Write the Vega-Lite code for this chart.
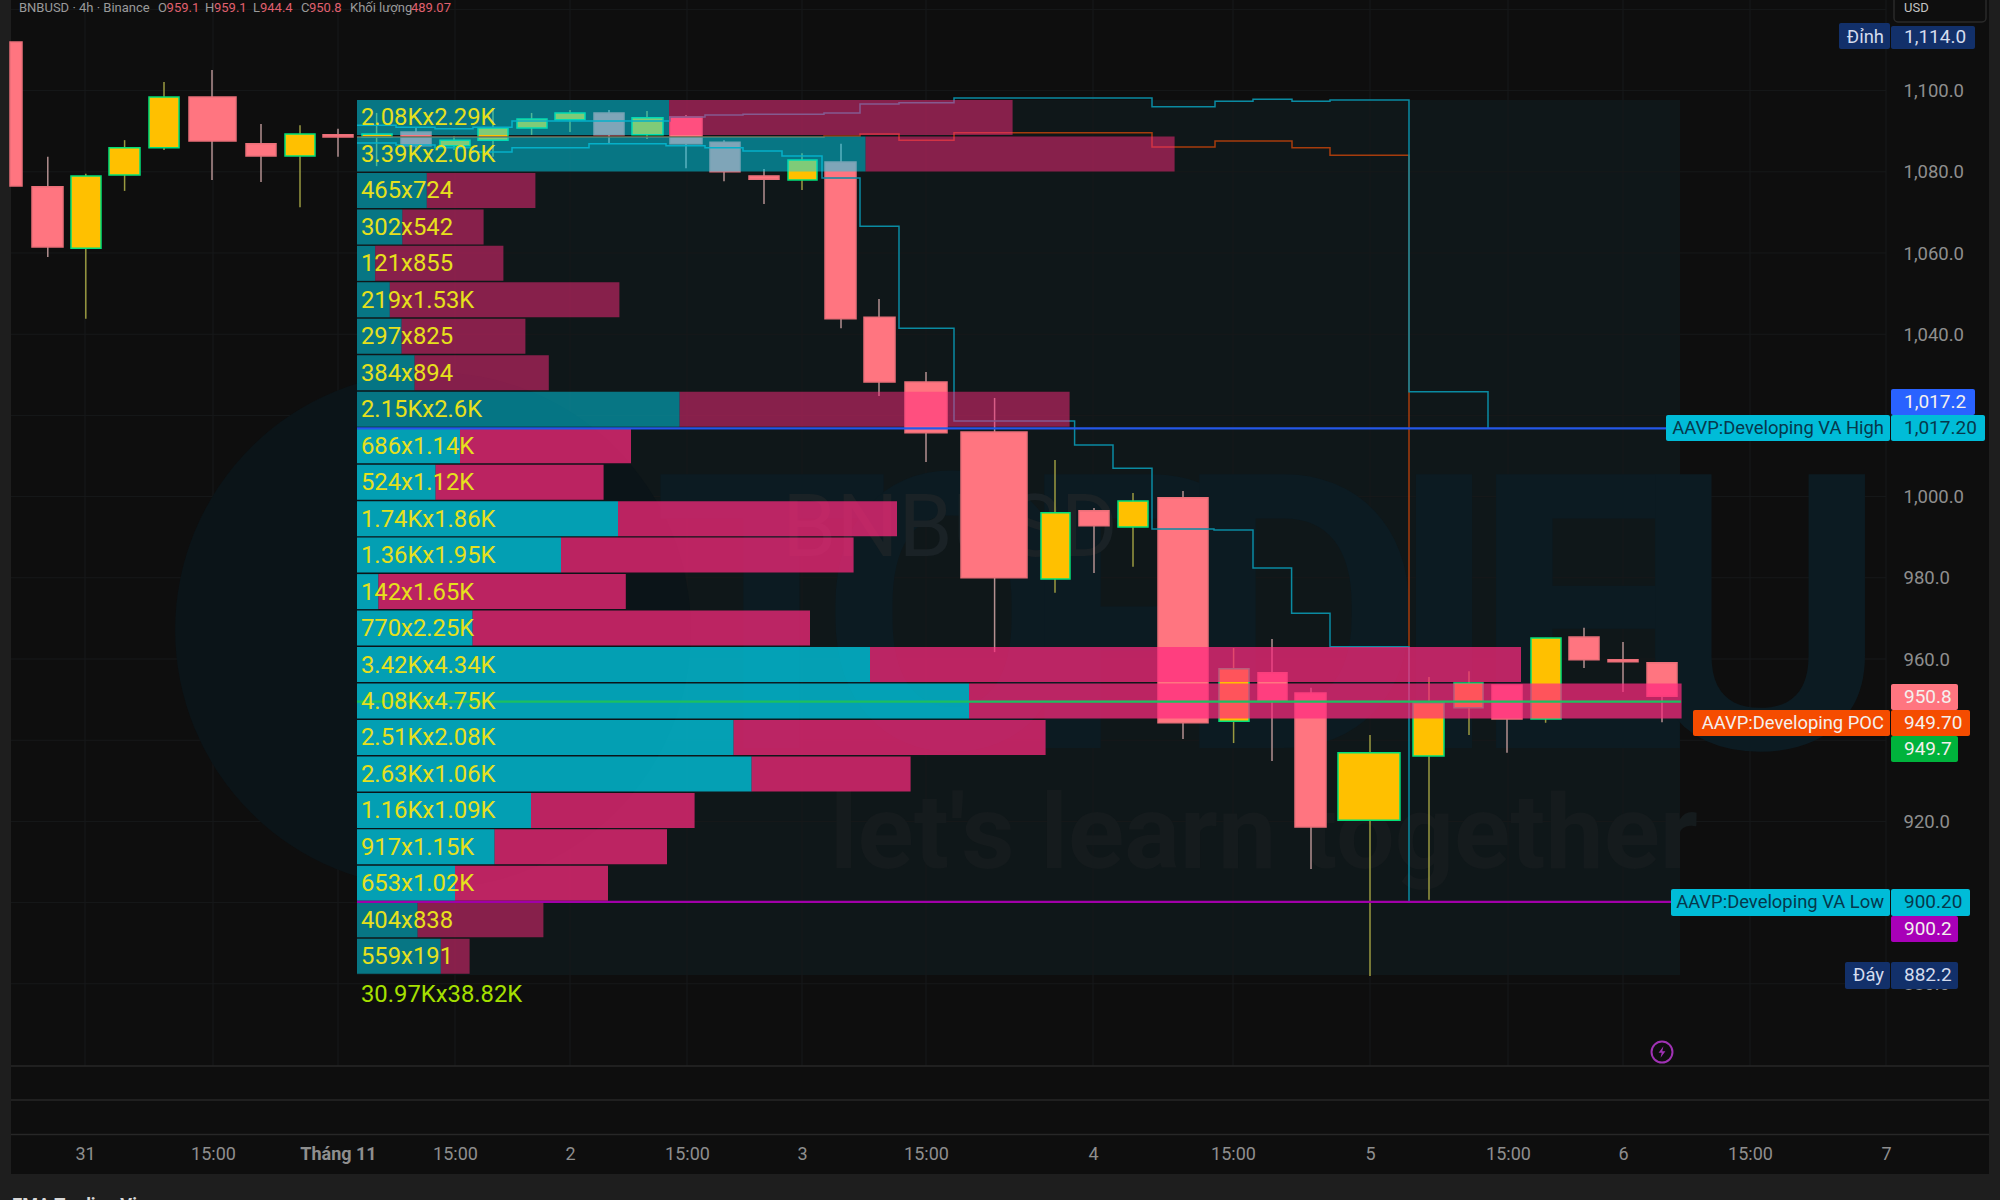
{
  "$schema": "https://vega.github.io/schema/vega-lite/v6.json",
  "width": 2000,
  "height": 1200,
  "padding": 0,
  "autosize": "none",
  "background": "#0e0e0e",
  "config": {"view": {"stroke": null}, "text": {"font": "Roboto"}},
  "datasets": {
    "frame": [
      {"from": 0, "to": 0.55, "top": 1122.32, "bottom": 826.75},
      {"from": 99.45, "to": 100, "top": 1122.32, "bottom": 826.75},
      {"from": 0, "to": 100, "top": 833.15, "bottom": 826.75}
    ],
    "box": [{"from": 17.85, "to": 84, "top": 1097.69, "bottom": 882.2}],
    "time_ticks": [
      {"pos": 4.25, "top": 1122.32, "bottom": 859.76}, {"pos": 10.65, "top": 1122.32, "bottom": 859.76},
      {"pos": 16.9, "top": 1122.32, "bottom": 859.76}, {"pos": 22.75, "top": 1122.32, "bottom": 859.76},
      {"pos": 28.5, "top": 1122.32, "bottom": 859.76}, {"pos": 34.35, "top": 1122.32, "bottom": 859.76},
      {"pos": 40.1, "top": 1122.32, "bottom": 859.76}, {"pos": 46.3, "top": 1122.32, "bottom": 859.76},
      {"pos": 54.65, "top": 1122.32, "bottom": 859.76}, {"pos": 61.65, "top": 1122.32, "bottom": 859.76},
      {"pos": 68.5, "top": 1122.32, "bottom": 859.76}, {"pos": 75.4, "top": 1122.32, "bottom": 859.76},
      {"pos": 81.15, "top": 1122.32, "bottom": 859.76}, {"pos": 87.5, "top": 1122.32, "bottom": 859.76},
      {"pos": 94.3, "top": 1122.32, "bottom": 859.76}
    ],
    "price_ticks": [
      {"price": 1120, "from": 0.55, "to": 94.3}, {"price": 1100, "from": 0.55, "to": 94.3},
      {"price": 1080, "from": 0.55, "to": 94.3}, {"price": 1060, "from": 0.55, "to": 94.3},
      {"price": 1040, "from": 0.55, "to": 94.3}, {"price": 1020, "from": 0.55, "to": 94.3},
      {"price": 1000, "from": 0.55, "to": 94.3}, {"price": 980, "from": 0.55, "to": 94.3},
      {"price": 960, "from": 0.55, "to": 94.3}, {"price": 940, "from": 0.55, "to": 94.3},
      {"price": 920, "from": 0.55, "to": 94.3}, {"price": 900, "from": 0.55, "to": 94.3},
      {"price": 880, "from": 0.55, "to": 94.3}
    ],
    "panes": [
      {"price": 859.76, "from": 0.55, "to": 99.45},
      {"price": 851.4, "from": 0.55, "to": 99.45},
      {"price": 842.9, "from": 0.55, "to": 99.45}
    ],
    "logo": [{"pos": 21.65, "price": 967.14}],
    "brand": [
      {"letter": "T", "pos": 38.6, "price": 938.08}, {"letter": "O", "pos": 47.6, "price": 938.08},
      {"letter": "P", "pos": 57.2, "price": 938.08}, {"letter": "D", "pos": 65, "price": 938.08},
      {"letter": "I", "pos": 72.2, "price": 938.08}, {"letter": "E", "pos": 79, "price": 938.08},
      {"letter": "U", "pos": 88, "price": 938.08}
    ],
    "symbol": [{"text": "BNBUSD", "pos": 47.5, "price": 991.8}],
    "tagline": [{"text": "let's learn together", "pos": 63.2, "price": 908.5}],
    "candles": [
      {"start": 0.5, "end": 1.1, "mid": 0.8, "open": 1112, "high": 1112, "low": 1076.5, "close": 1076.5, "dir": "down"},
      {"start": 1.6, "end": 3.15, "mid": 2.39, "open": 1076.3, "high": 1083.7, "low": 1059, "close": 1061.5, "dir": "down"},
      {"start": 3.55, "end": 5.05, "mid": 4.29, "open": 1061.2, "high": 1079.5, "low": 1043.8, "close": 1079, "dir": "up"},
      {"start": 5.45, "end": 7, "mid": 6.23, "open": 1079.2, "high": 1087.8, "low": 1075.3, "close": 1085.9, "dir": "up"},
      {"start": 7.45, "end": 8.95, "mid": 8.2, "open": 1085.9, "high": 1102.1, "low": 1085.4, "close": 1098.4, "dir": "up"},
      {"start": 9.45, "end": 11.8, "mid": 10.6, "open": 1098.4, "high": 1105.1, "low": 1078, "close": 1087.6, "dir": "down"},
      {"start": 12.3, "end": 13.8, "mid": 13.05, "open": 1086.9, "high": 1091.8, "low": 1077.5, "close": 1083.9, "dir": "down"},
      {"start": 14.25, "end": 15.75, "mid": 15, "open": 1083.9, "high": 1091.5, "low": 1071.3, "close": 1089.3, "dir": "up"},
      {"start": 16.15, "end": 17.65, "mid": 16.9, "open": 1089.1, "high": 1090.6, "low": 1083.7, "close": 1088.6, "dir": "down"},
      {"start": 18.1, "end": 19.6, "mid": 18.83, "open": 1088.6, "high": 1094.5, "low": 1081.4, "close": 1089.3, "dir": "up"},
      {"start": 20.05, "end": 21.55, "mid": 20.8, "open": 1089.8, "high": 1091, "low": 1085.4, "close": 1086.4, "dir": "down"},
      {"start": 22, "end": 23.5, "mid": 22.7, "open": 1086.4, "high": 1088.8, "low": 1085.4, "close": 1087.8, "dir": "up"},
      {"start": 23.9, "end": 25.4, "mid": 24.65, "open": 1087.8, "high": 1095.7, "low": 1083.7, "close": 1090.8, "dir": "up"},
      {"start": 25.85, "end": 27.35, "mid": 26.58, "open": 1090.8, "high": 1094.5, "low": 1089.1, "close": 1093, "dir": "up"},
      {"start": 27.75, "end": 29.25, "mid": 28.5, "open": 1092.8, "high": 1095.2, "low": 1089.8, "close": 1094.5, "dir": "up"},
      {"start": 29.7, "end": 31.2, "mid": 30.45, "open": 1094.5, "high": 1095.2, "low": 1087.1, "close": 1089.1, "dir": "down"},
      {"start": 31.6, "end": 33.15, "mid": 32.35, "open": 1089.1, "high": 1095, "low": 1088.1, "close": 1093.3, "dir": "up"},
      {"start": 33.5, "end": 35.1, "mid": 34.3, "open": 1093.5, "high": 1094, "low": 1080.9, "close": 1086.9, "dir": "down"},
      {"start": 35.5, "end": 37, "mid": 36.2, "open": 1087.3, "high": 1087.8, "low": 1077.7, "close": 1080, "dir": "down"},
      {"start": 37.45, "end": 38.95, "mid": 38.2, "open": 1079, "high": 1080.7, "low": 1072.1, "close": 1078.2, "dir": "down"},
      {"start": 39.4, "end": 40.85, "mid": 40.1, "open": 1078, "high": 1084.6, "low": 1075.5, "close": 1082.9, "dir": "up"},
      {"start": 41.25, "end": 42.8, "mid": 42.05, "open": 1082.4, "high": 1086.9, "low": 1041.5, "close": 1043.8, "dir": "down"},
      {"start": 43.2, "end": 44.75, "mid": 43.95, "open": 1044.2, "high": 1048.7, "low": 1024.8, "close": 1028.2, "dir": "down"},
      {"start": 45.25, "end": 47.35, "mid": 46.3, "open": 1028.2, "high": 1030.7, "low": 1008.5, "close": 1015.7, "dir": "down"},
      {"start": 48.05, "end": 51.35, "mid": 49.73, "open": 1015.9, "high": 1024.3, "low": 961.7, "close": 980, "dir": "down"},
      {"start": 52.05, "end": 53.5, "mid": 52.75, "open": 979.7, "high": 1009, "low": 976.3, "close": 996, "dir": "up"},
      {"start": 53.95, "end": 55.45, "mid": 54.7, "open": 996.5, "high": 997.2, "low": 981.2, "close": 992.8, "dir": "down"},
      {"start": 55.9, "end": 57.4, "mid": 56.65, "open": 992.5, "high": 1000.9, "low": 982.7, "close": 998.9, "dir": "up"},
      {"start": 57.9, "end": 60.4, "mid": 59.15, "open": 999.7, "high": 1001.4, "low": 940.3, "close": 944.3, "dir": "down"},
      {"start": 60.95, "end": 62.45, "mid": 61.68, "open": 944.7, "high": 962.7, "low": 939.3, "close": 957.6, "dir": "up"},
      {"start": 62.9, "end": 64.35, "mid": 63.6, "open": 956.6, "high": 964.9, "low": 934.9, "close": 949.7, "dir": "down"},
      {"start": 64.75, "end": 66.3, "mid": 65.55, "open": 951.6, "high": 952.9, "low": 908.3, "close": 918.6, "dir": "down"},
      {"start": 66.9, "end": 70, "mid": 68.5, "open": 920.3, "high": 941.3, "low": 881.9, "close": 936.9, "dir": "up"},
      {"start": 70.65, "end": 72.2, "mid": 71.45, "open": 936.1, "high": 955.6, "low": 900.7, "close": 949.2, "dir": "up"},
      {"start": 72.7, "end": 74.15, "mid": 73.45, "open": 948, "high": 957, "low": 941.3, "close": 954.1, "dir": "up"},
      {"start": 74.6, "end": 76.1, "mid": 75.35, "open": 953.6, "high": 953.6, "low": 936.9, "close": 945.2, "dir": "down"},
      {"start": 76.55, "end": 78.05, "mid": 77.28, "open": 945.2, "high": 965.2, "low": 944.3, "close": 965.2, "dir": "up"},
      {"start": 78.45, "end": 79.95, "mid": 79.2, "open": 965.4, "high": 967.7, "low": 957.8, "close": 959.8, "dir": "down"},
      {"start": 80.4, "end": 81.9, "mid": 81.15, "open": 959.8, "high": 964.2, "low": 951.9, "close": 959.3, "dir": "down"},
      {"start": 82.35, "end": 83.85, "mid": 83.1, "open": 959.1, "high": 959.1, "low": 944.4, "close": 950.8, "dir": "down"}
    ],
    "poc_line": [
      {"pos": 17.85, "price": 1088.6}, {"pos": 41.2, "price": 1088.8}, {"pos": 43, "price": 1089.3},
      {"pos": 44.95, "price": 1087.8}, {"pos": 47.7, "price": 1089.6}, {"pos": 57.6, "price": 1086.1},
      {"pos": 60.75, "price": 1087.6}, {"pos": 64.6, "price": 1085.9}, {"pos": 66.5, "price": 1084.1},
      {"pos": 70.45, "price": 949.7}
    ],
    "va_low_line": [
      {"pos": 17.85, "price": 1087.1}, {"pos": 19.8, "price": 1086.6}, {"pos": 21.75, "price": 1085.9},
      {"pos": 23.65, "price": 1084.9}, {"pos": 25.6, "price": 1085.9}, {"pos": 29.45, "price": 1086.9},
      {"pos": 33.3, "price": 1086.4}, {"pos": 35.25, "price": 1085.9}, {"pos": 37.15, "price": 1085.1},
      {"pos": 39.1, "price": 1083.9}, {"pos": 41.1, "price": 1078.5}, {"pos": 43, "price": 1066.6},
      {"pos": 44.95, "price": 1041.5}, {"pos": 47.7, "price": 1018.6}, {"pos": 53.73, "price": 1012.7},
      {"pos": 55.65, "price": 1007}, {"pos": 57.6, "price": 992}, {"pos": 60.7, "price": 991.8},
      {"pos": 62.65, "price": 982.4}, {"pos": 64.58, "price": 971.3}, {"pos": 66.5, "price": 963},
      {"pos": 70.45, "price": 900.2}
    ],
    "va_high_line": [
      {"pos": 17.85, "price": 1091.5}, {"pos": 19.8, "price": 1091}, {"pos": 21.75, "price": 1090.6},
      {"pos": 23.65, "price": 1091}, {"pos": 25.6, "price": 1092.5}, {"pos": 33.5, "price": 1093.5},
      {"pos": 35.25, "price": 1094}, {"pos": 37.15, "price": 1094.2}, {"pos": 41.2, "price": 1094.5},
      {"pos": 43, "price": 1096.7}, {"pos": 44.95, "price": 1097}, {"pos": 47.7, "price": 1098.2},
      {"pos": 57.6, "price": 1096}, {"pos": 60.75, "price": 1097.4}, {"pos": 62.65, "price": 1097.9},
      {"pos": 64.6, "price": 1097.4}, {"pos": 66.5, "price": 1097.7}, {"pos": 70.45, "price": 1025.8},
      {"pos": 74.4, "price": 1016.8}
    ],
    "profile": [
      {"buy": 2080, "sell": 2290, "start": 17.85, "buy_end": 33.45, "sell_end": 50.63, "top": 1097.69, "bottom": 1089.07, "zone": "outside"},
      {"buy": 3390, "sell": 2060, "start": 17.85, "buy_end": 43.28, "sell_end": 58.73, "top": 1088.71, "bottom": 1080.09, "zone": "outside"},
      {"buy": 465, "sell": 724, "start": 17.85, "buy_end": 21.34, "sell_end": 26.77, "top": 1079.72, "bottom": 1071.1, "zone": "outside"},
      {"buy": 302, "sell": 542, "start": 17.85, "buy_end": 20.12, "sell_end": 24.18, "top": 1070.74, "bottom": 1062.12, "zone": "outside"},
      {"buy": 121, "sell": 855, "start": 17.85, "buy_end": 18.76, "sell_end": 25.17, "top": 1061.76, "bottom": 1053.14, "zone": "outside"},
      {"buy": 219, "sell": 1530, "start": 17.85, "buy_end": 19.49, "sell_end": 30.97, "top": 1052.78, "bottom": 1044.16, "zone": "outside"},
      {"buy": 297, "sell": 825, "start": 17.85, "buy_end": 20.08, "sell_end": 26.27, "top": 1043.79, "bottom": 1035.17, "zone": "outside"},
      {"buy": 384, "sell": 894, "start": 17.85, "buy_end": 20.73, "sell_end": 27.44, "top": 1034.81, "bottom": 1026.19, "zone": "outside"},
      {"buy": 2150, "sell": 2600, "start": 17.85, "buy_end": 33.98, "sell_end": 53.48, "top": 1025.83, "bottom": 1017.21, "zone": "outside"},
      {"buy": 686, "sell": 1140, "start": 17.85, "buy_end": 23, "sell_end": 31.55, "top": 1016.84, "bottom": 1008.22, "zone": "value_area"},
      {"buy": 524, "sell": 1120, "start": 17.85, "buy_end": 21.78, "sell_end": 30.18, "top": 1007.86, "bottom": 999.24, "zone": "value_area"},
      {"buy": 1740, "sell": 1860, "start": 17.85, "buy_end": 30.9, "sell_end": 44.85, "top": 998.88, "bottom": 990.26, "zone": "value_area"},
      {"buy": 1360, "sell": 1950, "start": 17.85, "buy_end": 28.05, "sell_end": 42.68, "top": 989.9, "bottom": 981.28, "zone": "value_area"},
      {"buy": 142, "sell": 1650, "start": 17.85, "buy_end": 18.92, "sell_end": 31.29, "top": 980.91, "bottom": 972.29, "zone": "value_area"},
      {"buy": 770, "sell": 2250, "start": 17.85, "buy_end": 23.63, "sell_end": 40.5, "top": 971.93, "bottom": 963.31, "zone": "value_area"},
      {"buy": 3420, "sell": 4340, "start": 17.85, "buy_end": 43.5, "sell_end": 76.05, "top": 962.95, "bottom": 954.33, "zone": "value_area"},
      {"buy": 4080, "sell": 4750, "start": 17.85, "buy_end": 48.45, "sell_end": 84.08, "top": 953.97, "bottom": 945.35, "zone": "value_area"},
      {"buy": 2510, "sell": 2080, "start": 17.85, "buy_end": 36.68, "sell_end": 52.28, "top": 944.98, "bottom": 936.36, "zone": "value_area"},
      {"buy": 2630, "sell": 1060, "start": 17.85, "buy_end": 37.58, "sell_end": 45.53, "top": 936, "bottom": 927.38, "zone": "value_area"},
      {"buy": 1160, "sell": 1090, "start": 17.85, "buy_end": 26.55, "sell_end": 34.73, "top": 927.02, "bottom": 918.4, "zone": "value_area"},
      {"buy": 917, "sell": 1150, "start": 17.85, "buy_end": 24.73, "sell_end": 33.35, "top": 918.04, "bottom": 909.42, "zone": "value_area"},
      {"buy": 653, "sell": 1020, "start": 17.85, "buy_end": 22.75, "sell_end": 30.4, "top": 909.05, "bottom": 900.43, "zone": "value_area"},
      {"buy": 404, "sell": 838, "start": 17.85, "buy_end": 20.88, "sell_end": 27.17, "top": 900.07, "bottom": 891.45, "zone": "outside"},
      {"buy": 559, "sell": 191, "start": 17.85, "buy_end": 22.04, "sell_end": 23.48, "top": 891.09, "bottom": 882.47, "zone": "outside"}
    ],
    "profile_labels": [
      {"text": "2.08Kx2.29K", "pos": 18.05, "price": 1093.38, "tone": "row"},
      {"text": "3.39Kx2.06K", "pos": 18.05, "price": 1084.4, "tone": "row"},
      {"text": "465x724", "pos": 18.05, "price": 1075.41, "tone": "row"},
      {"text": "302x542", "pos": 18.05, "price": 1066.43, "tone": "row"},
      {"text": "121x855", "pos": 18.05, "price": 1057.45, "tone": "row"},
      {"text": "219x1.53K", "pos": 18.05, "price": 1048.47, "tone": "row"},
      {"text": "297x825", "pos": 18.05, "price": 1039.48, "tone": "row"},
      {"text": "384x894", "pos": 18.05, "price": 1030.5, "tone": "row"},
      {"text": "2.15Kx2.6K", "pos": 18.05, "price": 1021.52, "tone": "row"},
      {"text": "686x1.14K", "pos": 18.05, "price": 1012.53, "tone": "row"},
      {"text": "524x1.12K", "pos": 18.05, "price": 1003.55, "tone": "row"},
      {"text": "1.74Kx1.86K", "pos": 18.05, "price": 994.57, "tone": "row"},
      {"text": "1.36Kx1.95K", "pos": 18.05, "price": 985.59, "tone": "row"},
      {"text": "142x1.65K", "pos": 18.05, "price": 976.6, "tone": "row"},
      {"text": "770x2.25K", "pos": 18.05, "price": 967.62, "tone": "row"},
      {"text": "3.42Kx4.34K", "pos": 18.05, "price": 958.64, "tone": "row"},
      {"text": "4.08Kx4.75K", "pos": 18.05, "price": 949.66, "tone": "row"},
      {"text": "2.51Kx2.08K", "pos": 18.05, "price": 940.67, "tone": "row"},
      {"text": "2.63Kx1.06K", "pos": 18.05, "price": 931.69, "tone": "row"},
      {"text": "1.16Kx1.09K", "pos": 18.05, "price": 922.71, "tone": "row"},
      {"text": "917x1.15K", "pos": 18.05, "price": 913.73, "tone": "row"},
      {"text": "653x1.02K", "pos": 18.05, "price": 904.74, "tone": "row"},
      {"text": "404x838", "pos": 18.05, "price": 895.76, "tone": "row"},
      {"text": "559x191", "pos": 18.05, "price": 886.78, "tone": "row"},
      {"text": "30.97Kx38.82K", "pos": 18.05, "price": 877.6, "tone": "sum"}
    ],
    "levels": [
      {"level": "va_high", "price": 1016.8, "from": 17.85, "to": 83.3},
      {"level": "va_low", "price": 900.2, "from": 17.85, "to": 83.55},
      {"level": "poc", "price": 949.5, "from": 17.85, "to": 84.05}
    ],
    "alert": [{"pos": 83.1, "price": 863.2}],
    "usd_box": [{"from": 94.7, "to": 99.3, "top": 1124.8, "bottom": 1116.9}],
    "badges": [
      {"kind": "extreme", "from": 91.95, "to": 94.5, "top": 1116.65, "bottom": 1110.25},
      {"kind": "extreme", "from": 94.55, "to": 98.75, "top": 1115.92, "bottom": 1110.25},
      {"kind": "blue", "from": 94.55, "to": 98.75, "top": 1026.5, "bottom": 1020.1},
      {"kind": "cyan", "from": 83.3, "to": 94.5, "top": 1020.1, "bottom": 1013.7},
      {"kind": "cyan", "from": 94.55, "to": 99.25, "top": 1020.1, "bottom": 1013.7},
      {"kind": "pink", "from": 94.55, "to": 97.9, "top": 953.85, "bottom": 947.44},
      {"kind": "orange", "from": 84.65, "to": 94.5, "top": 947.44, "bottom": 941.05},
      {"kind": "orange", "from": 94.55, "to": 98.5, "top": 947.44, "bottom": 941.05},
      {"kind": "green", "from": 94.55, "to": 97.9, "top": 941.05, "bottom": 934.63},
      {"kind": "cyan", "from": 83.55, "to": 94.5, "top": 903.35, "bottom": 896.7},
      {"kind": "cyan", "from": 94.55, "to": 98.5, "top": 903.35, "bottom": 896.7},
      {"kind": "purple", "from": 94.55, "to": 97.9, "top": 896.7, "bottom": 890.3},
      {"kind": "extreme", "from": 92.25, "to": 94.5, "top": 885.37, "bottom": 878.72},
      {"kind": "extreme", "from": 94.55, "to": 97.9, "top": 885.37, "bottom": 878.72}
    ],
    "badge_values": [
      {"text": "1,114.0", "pos": 95.2, "price": 1113.3, "tone": "navy"},
      {"text": "1,017.2", "pos": 95.2, "price": 1023.3, "tone": "light"},
      {"text": "1,017.20", "pos": 95.2, "price": 1016.9, "tone": "dark"},
      {"text": "950.8", "pos": 95.2, "price": 950.65, "tone": "light"},
      {"text": "949.70", "pos": 95.2, "price": 944.25, "tone": "light"},
      {"text": "949.7", "pos": 95.2, "price": 937.85, "tone": "light"},
      {"text": "900.20", "pos": 95.2, "price": 900.05, "tone": "dark"},
      {"text": "900.2", "pos": 95.2, "price": 893.5, "tone": "light"},
      {"text": "882.2", "pos": 95.2, "price": 882.05, "tone": "navy"}
    ],
    "badge_names": [
      {"text": "Đỉnh", "pos": 94.2, "price": 1113.3, "tone": "navy"},
      {"text": "AAVP:Developing VA High", "pos": 94.2, "price": 1016.9, "tone": "dark"},
      {"text": "AAVP:Developing POC", "pos": 94.2, "price": 944.25, "tone": "light"},
      {"text": "AAVP:Developing VA Low", "pos": 94.2, "price": 900.05, "tone": "dark"},
      {"text": "Đáy", "pos": 94.2, "price": 882.05, "tone": "navy"}
    ],
    "header": [
      {"text": "BNBUSD · 4h · Binance", "pos": 0.95, "price": 1120.35, "tone": "gray"},
      {"text": "O", "pos": 7.9, "price": 1120.35, "tone": "gray"},
      {"text": "959.1", "pos": 8.33, "price": 1120.35, "tone": "red"},
      {"text": "H", "pos": 10.25, "price": 1120.35, "tone": "gray"},
      {"text": "959.1", "pos": 10.7, "price": 1120.35, "tone": "red"},
      {"text": "L", "pos": 12.65, "price": 1120.35, "tone": "gray"},
      {"text": "944.4", "pos": 13, "price": 1120.35, "tone": "red"},
      {"text": "C", "pos": 15.05, "price": 1120.35, "tone": "gray"},
      {"text": "950.8", "pos": 15.45, "price": 1120.35, "tone": "red"},
      {"text": "Khối lượng", "pos": 17.5, "price": 1120.35, "tone": "gray"},
      {"text": "489.07", "pos": 20.55, "price": 1120.35, "tone": "red"},
      {"text": "USD", "pos": 95.2, "price": 1120.35, "tone": "usd"}
    ],
    "footer": [{"text": "EMA Trading View", "pos": 0.6, "price": 824}]
  },
  "layer": [
    {
      "data": {"name": "frame"},
      "mark": {"type": "rect", "color": "#1e1e1e"},
      "encoding": {
        "x": {
          "field": "from",
          "type": "quantitative",
          "scale": {"domain": [0, 100], "nice": false, "zero": false},
          "axis": {
            "orient": "bottom",
            "offset": -65,
            "title": null,
            "grid": false,
            "domain": false,
            "ticks": false,
            "labelPadding": 10,
            "labelFont": "Roboto",
            "labelFontSize": 18,
            "labelColor": "#8e8e8e",
            "labelOverlap": false,
            "labelBound": false,
            "labelFlush": false,
            "values": [4.25, 10.65, 16.9, 22.75, 28.5, 34.35, 40.1, 46.3, 54.65, 61.65, 68.5, 75.4, 81.15, 87.5, 94.3],
            "labelExpr": "{'4.25':'31','10.65':'15:00','16.9':'Tháng 11','22.75':'15:00','28.5':'2','34.35':'15:00','40.1':'3','46.3':'15:00','54.65':'4','61.65':'15:00','68.5':'5','75.4':'15:00','81.15':'6','87.5':'15:00','94.3':'7'}[datum.value]",
            "labelFontWeight": {"condition": {"test": "datum.value == 16.9", "value": "bold"}, "value": "normal"}
          }
        },
        "x2": {"field": "to"},
        "y": {
          "field": "top",
          "type": "quantitative",
          "scale": {"domain": [826.75, 1122.32], "nice": false, "zero": false},
          "axis": {
            "orient": "right",
            "offset": -97,
            "title": null,
            "grid": false,
            "domain": false,
            "ticks": false,
            "labelPadding": 0,
            "labelFont": "Roboto",
            "labelFontSize": 18.5,
            "labelColor": "#8e8e8e",
            "labelOverlap": false,
            "labelBound": false,
            "labelFlush": false,
            "format": ",.1f",
            "values": [1100, 1080, 1060, 1040, 1020, 1000, 980, 960, 940, 920, 900, 880]
          }
        },
        "y2": {"field": "bottom"}
      }
    },
    {
      "data": {"name": "box"},
      "mark": {"type": "rect", "color": "#0f1719"},
      "encoding": {
        "x": {"field": "from", "type": "quantitative"},
        "x2": {"field": "to"},
        "y": {"field": "top", "type": "quantitative"},
        "y2": {"field": "bottom"}
      }
    },
    {
      "data": {"name": "time_ticks"},
      "mark": {"type": "rule", "color": "#17191a", "strokeWidth": 1},
      "encoding": {
        "x": {"field": "pos", "type": "quantitative"},
        "y": {"field": "top", "type": "quantitative"},
        "y2": {"field": "bottom"}
      }
    },
    {
      "data": {"name": "price_ticks"},
      "mark": {"type": "rule", "color": "#17191a", "strokeWidth": 1},
      "encoding": {
        "x": {"field": "from", "type": "quantitative"},
        "x2": {"field": "to"},
        "y": {"field": "price", "type": "quantitative"}
      }
    },
    {
      "data": {"name": "panes"},
      "mark": {"type": "rule", "color": "#272727", "strokeWidth": 1.5},
      "encoding": {
        "x": {"field": "from", "type": "quantitative"},
        "x2": {"field": "to"},
        "y": {"field": "price", "type": "quantitative"}
      }
    },
    {
      "data": {"name": "logo"},
      "mark": {"type": "point", "shape": "circle", "filled": true, "color": "#0b1418", "opacity": 1, "size": 266000},
      "encoding": {
        "x": {"field": "pos", "type": "quantitative"},
        "y": {"field": "price", "type": "quantitative"}
      }
    },
    {
      "data": {"name": "brand"},
      "mark": {"type": "text", "font": "Roboto", "fontWeight": "bold", "fontSize": 385, "color": "#0c1b22", "align": "center", "baseline": "alphabetic"},
      "encoding": {
        "x": {"field": "pos", "type": "quantitative"},
        "y": {"field": "price", "type": "quantitative"},
        "text": {"field": "letter", "type": "nominal"}
      }
    },
    {
      "data": {"name": "symbol"},
      "mark": {"type": "text", "font": "Roboto", "fontSize": 87, "color": "#1a2226", "align": "center", "baseline": "middle"},
      "encoding": {
        "x": {"field": "pos", "type": "quantitative"},
        "y": {"field": "price", "type": "quantitative"},
        "text": {"field": "text", "type": "nominal"}
      }
    },
    {
      "data": {"name": "tagline"},
      "mark": {"type": "text", "font": "Roboto", "fontWeight": "bold", "fontSize": 104, "color": "#151b1d", "align": "center", "baseline": "alphabetic"},
      "encoding": {
        "x": {"field": "pos", "type": "quantitative"},
        "y": {"field": "price", "type": "quantitative"},
        "text": {"field": "text", "type": "nominal"}
      }
    },
    {
      "data": {"name": "candles"},
      "mark": {"type": "rule", "strokeWidth": 1.5},
      "encoding": {
        "x": {"field": "mid", "type": "quantitative"},
        "y": {"field": "high", "type": "quantitative"},
        "y2": {"field": "low"},
        "color": {
          "field": "dir",
          "type": "nominal",
          "legend": null,
          "scale": {
            "domain": ["up", "down", "row", "sum", "navy", "light", "dark", "usd", "gray", "red"],
            "range": ["#9a9a40", "#b39090", "#e6e01c", "#a6e000", "#d4dcee", "#f4f0ee", "#06384c", "#c4c4c4", "#9a9a9a", "#e0606e"]
          }
        }
      }
    },
    {
      "data": {"name": "candles"},
      "mark": {"type": "rect", "strokeWidth": 1.5},
      "encoding": {
        "x": {"field": "start", "type": "quantitative"},
        "x2": {"field": "end"},
        "y": {"field": "open", "type": "quantitative"},
        "y2": {"field": "close"},
        "fill": {
          "field": "dir",
          "type": "nominal",
          "legend": null,
          "scale": {
            "domain": ["up", "down", "extreme", "blue", "cyan", "pink", "orange", "green", "purple"],
            "range": ["#ffc000", "#ff7580", "#12306a", "#2962ff", "#00bcd8", "#ff7580", "#f54c00", "#00b33c", "#a800b8"]
          }
        },
        "stroke": {
          "field": "dir",
          "type": "nominal",
          "legend": null,
          "scale": {
            "domain": ["up", "down", "va_high", "va_low", "poc"],
            "range": ["#00e07a", "#ea6f78", "#2458e8", "#a000a8", "#1cc060"]
          }
        }
      }
    },
    {
      "data": {"name": "poc_line"},
      "mark": {"type": "line", "interpolate": "step-after", "color": "#a63c0c", "strokeWidth": 1.5},
      "encoding": {
        "x": {"field": "pos", "type": "quantitative"},
        "y": {"field": "price", "type": "quantitative"}
      }
    },
    {
      "data": {"name": "va_low_line"},
      "mark": {"type": "line", "interpolate": "step-after", "color": "#0a8ba2", "strokeWidth": 1.5},
      "encoding": {
        "x": {"field": "pos", "type": "quantitative"},
        "y": {"field": "price", "type": "quantitative"}
      }
    },
    {
      "data": {"name": "va_high_line"},
      "mark": {"type": "line", "interpolate": "step-after", "color": "#0a8ba2", "strokeWidth": 1.5},
      "encoding": {
        "x": {"field": "pos", "type": "quantitative"},
        "y": {"field": "price", "type": "quantitative"}
      }
    },
    {
      "data": {"name": "profile"},
      "mark": {"type": "rect", "color": "#00d6f0"},
      "encoding": {
        "x": {"field": "start", "type": "quantitative"},
        "x2": {"field": "buy_end"},
        "y": {"field": "top", "type": "quantitative"},
        "y2": {"field": "bottom"},
        "opacity": {"field": "zone", "type": "nominal", "legend": null, "scale": {"domain": ["value_area", "outside"], "range": [0.72, 0.5]}}
      }
    },
    {
      "data": {"name": "profile"},
      "mark": {"type": "rect", "color": "#ff2a7e"},
      "encoding": {
        "x": {"field": "buy_end", "type": "quantitative"},
        "x2": {"field": "sell_end"},
        "y": {"field": "top", "type": "quantitative"},
        "y2": {"field": "bottom"},
        "opacity": {"field": "zone", "type": "nominal", "legend": null, "scale": {"domain": ["value_area", "outside"], "range": [0.72, 0.5]}}
      }
    },
    {
      "data": {"name": "levels"},
      "mark": {"type": "rule", "strokeWidth": 2.2},
      "encoding": {
        "x": {"field": "from", "type": "quantitative"},
        "x2": {"field": "to"},
        "y": {"field": "price", "type": "quantitative"},
        "stroke": {"field": "level", "type": "nominal", "legend": null}
      }
    },
    {
      "data": {"name": "profile_labels"},
      "mark": {"type": "text", "font": "Roboto", "fontSize": 23.8, "align": "left", "baseline": "middle", "dy": 1},
      "encoding": {
        "x": {"field": "pos", "type": "quantitative"},
        "y": {"field": "price", "type": "quantitative"},
        "text": {"field": "text", "type": "nominal"},
        "color": {"field": "tone", "type": "nominal", "legend": null}
      }
    },
    {
      "data": {"name": "alert"},
      "mark": {"type": "point", "shape": "circle", "filled": false, "color": "#a032b4", "strokeWidth": 2, "opacity": 1, "size": 440},
      "encoding": {
        "x": {"field": "pos", "type": "quantitative"},
        "y": {"field": "price", "type": "quantitative"}
      }
    },
    {
      "data": {"name": "alert"},
      "mark": {"type": "point", "shape": "M0.25,-1 L-0.6,0.15 L-0.05,0.15 L-0.25,1 L0.6,-0.15 L0.05,-0.15 Z", "filled": true, "color": "#a032b4", "opacity": 1, "size": 130},
      "encoding": {
        "x": {"field": "pos", "type": "quantitative"},
        "y": {"field": "price", "type": "quantitative"}
      }
    },
    {
      "data": {"name": "usd_box"},
      "mark": {"type": "rect", "color": "#0e0e0e", "stroke": "#2a2a2a", "strokeWidth": 1.5, "cornerRadius": 4},
      "encoding": {
        "x": {"field": "from", "type": "quantitative"},
        "x2": {"field": "to"},
        "y": {"field": "top", "type": "quantitative"},
        "y2": {"field": "bottom"}
      }
    },
    {
      "data": {"name": "badges"},
      "mark": {"type": "rect", "cornerRadius": 2},
      "encoding": {
        "x": {"field": "from", "type": "quantitative"},
        "x2": {"field": "to"},
        "y": {"field": "top", "type": "quantitative"},
        "y2": {"field": "bottom"},
        "fill": {"field": "kind", "type": "nominal", "legend": null}
      }
    },
    {
      "data": {"name": "badge_values"},
      "mark": {"type": "text", "font": "Roboto", "fontSize": 19, "align": "left", "baseline": "middle"},
      "encoding": {
        "x": {"field": "pos", "type": "quantitative"},
        "y": {"field": "price", "type": "quantitative"},
        "text": {"field": "text", "type": "nominal"},
        "color": {"field": "tone", "type": "nominal", "legend": null}
      }
    },
    {
      "data": {"name": "badge_names"},
      "mark": {"type": "text", "font": "Roboto", "fontSize": 18.4, "align": "right", "baseline": "middle"},
      "encoding": {
        "x": {"field": "pos", "type": "quantitative"},
        "y": {"field": "price", "type": "quantitative"},
        "text": {"field": "text", "type": "nominal"},
        "color": {"field": "tone", "type": "nominal", "legend": null}
      }
    },
    {
      "data": {"name": "header"},
      "mark": {"type": "text", "font": "Roboto", "fontSize": 13, "align": "left", "baseline": "middle"},
      "encoding": {
        "x": {"field": "pos", "type": "quantitative"},
        "y": {"field": "price", "type": "quantitative"},
        "text": {"field": "text", "type": "nominal"},
        "color": {"field": "tone", "type": "nominal", "legend": null}
      }
    },
    {
      "data": {"name": "footer"},
      "mark": {"type": "text", "font": "Roboto", "fontSize": 18, "fontWeight": "bold", "color": "#d8d8d8", "align": "left", "baseline": "alphabetic"},
      "encoding": {
        "x": {"field": "pos", "type": "quantitative"},
        "y": {"field": "price", "type": "quantitative"},
        "text": {"field": "text", "type": "nominal"}
      }
    }
  ]
}
